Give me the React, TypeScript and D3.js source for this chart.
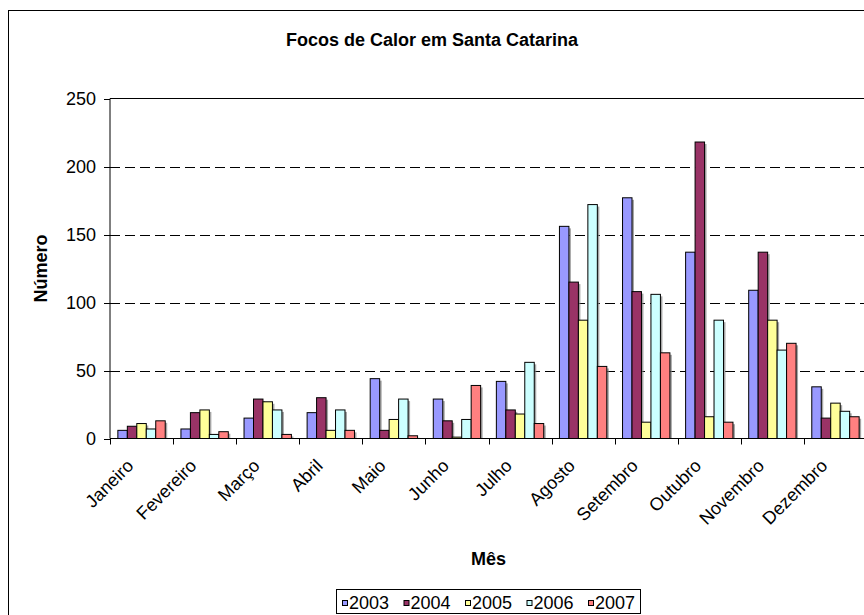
import React from 'react';
import * as d3 from 'd3';

const months = ['Janeiro', 'Fevereiro', 'Março', 'Abril', 'Maio', 'Junho', 'Julho', 'Agosto', 'Setembro', 'Outubro', 'Novembro', 'Dezembro'];
const years = ['2003', '2004', '2005', '2006', '2007'];
const colors = ['#9999FF', '#993366', '#FFFF99', '#CCFFFF', '#FF8080'];

const v2003 = [6, 7, 15, 19, 44, 29, 42, 156, 177, 137, 109, 38];
const v2004 = [9, 19, 29, 30, 6, 13, 21, 115, 108, 218, 137, 15];
const v2005 = [11, 21, 27, 6, 14, 1, 18, 87, 12, 16, 87, 26];
const v2006 = [7, 3, 21, 21, 29, 14, 56, 172, 106, 87, 65, 20];
const v2007 = [13, 5, 3, 6, 2, 39, 11, 53, 63, 12, 70, 16];
const series = [v2003, v2004, v2005, v2006, v2007];

const yTicks = [0, 50, 100, 150, 200, 250];

const W = 864;
const H = 615;
const left = 110;
const right = 867;
const top = 98.5;
const bottom = 438.5;
const font = 'Liberation Sans, Arial, Helvetica, sans-serif';

const App: React.FC = () => {
  const x = d3.scaleBand<string>().domain(months).range([left, right]).padding(0);
  const xi = d3.scaleBand<string>().domain(years).range([0, x.bandwidth()]).paddingInner(0).paddingOuter(0.83);
  const y = d3.scaleLinear().domain([0, 250]).range([bottom, top]);

  const bounds = d3.range(months.length + 1).map(i => left + i * x.step());
  const py = (t: number) => Math.round(y(t)) + 0.5;

  return (
    <svg width={W} height={H} style={{ position: 'absolute', left: 0, top: 0, background: '#fff' }} fontFamily={font}>
      <rect x={8.5} y={10.5} width={900} height={700} fill="#fff" stroke="#000" strokeWidth={1} />

      <text x={432} y={45.5} textAnchor="middle" fontSize={18} fontWeight="bold">
        Focos de Calor em Santa Catarina
      </text>

      {/* gridlines */}
      {yTicks.filter(t => t > 0 && t < 250).map(t => (
        <line key={t} x1={left} x2={right} y1={py(t)} y2={py(t)}
          stroke="#000" strokeDasharray="10,5" strokeWidth={1} />
      ))}
      <line x1={left} x2={right} y1={top} y2={top} stroke="#000" />
      <line x1={right - 0.5} x2={right - 0.5} y1={top} y2={bottom} stroke="#000" />

      {/* bar shadows */}
      {series.map((vals, si) => (
        <g key={years[si]}>
          {months.map((m, mi) => {
            const bx = (x(m) || 0) + (xi(years[si]) || 0);
            const by = y(vals[mi]);
            return (
              <rect key={m} x={bx + 2} y={by + 2} width={xi.bandwidth()} height={Math.max(0, bottom - by - 2)}
                fill="#808080" opacity={0.7} />
            );
          })}
        </g>
      ))}
      {/* bars */}
      {series.map((vals, si) => (
        <g key={years[si]}>
          {months.map((m, mi) => {
            const bx = (x(m) || 0) + (xi(years[si]) || 0);
            const by = y(vals[mi]);
            return (
              <rect key={m} x={bx} y={by} width={xi.bandwidth()} height={bottom - by}
                fill={colors[si]} stroke="#000" strokeWidth={1} />
            );
          })}
        </g>
      ))}

      {/* y axis */}
      <line x1={left} x2={left} y1={top} y2={bottom} stroke="#000" />
      {yTicks.map(t => (
        <g key={t}>
          <line x1={left - 6} x2={left} y1={py(t)} y2={py(t)} stroke="#000" />
          <text x={96} y={y(t) + 6.5} textAnchor="end" fontSize={18}>{t}</text>
        </g>
      ))}

      {/* x axis */}
      <line x1={left} x2={right} y1={bottom} y2={bottom} stroke="#000" />
      {bounds.map((b, i) => (
        <line key={i} x1={Math.round(b) + 0.5} x2={Math.round(b) + 0.5} y1={bottom} y2={bottom + 6} stroke="#000" />
      ))}
      {months.map(m => {
        const cx = (x(m) || 0) + x.bandwidth() / 2;
        return (
          <text key={m} transform={`translate(${cx - 7},467) rotate(-45)`} textAnchor="end" fontSize={18}>
            {m}
          </text>
        );
      })}

      <text x={(left + right) / 2} y={565} textAnchor="middle" fontSize={18} fontWeight="bold">Mês</text>
      <text transform={`translate(47,${(top + bottom) / 2}) rotate(-90)`} textAnchor="middle" fontSize={18} fontWeight="bold">Número</text>

      {/* legend */}
      <rect x={336.5} y={589.5} width={304} height={24} fill="#fff" stroke="#000" />
      {years.map((yr, i) => (
        <g key={yr} transform={`translate(${342 + i * 61.5},0)`}>
          <rect x={0.5} y={600.5} width={5} height={5} fill={colors[i]} stroke="#000" />
          <text x={7} y={609} fontSize={18}>{yr}</text>
        </g>
      ))}
    </svg>
  );
};

export default App;
